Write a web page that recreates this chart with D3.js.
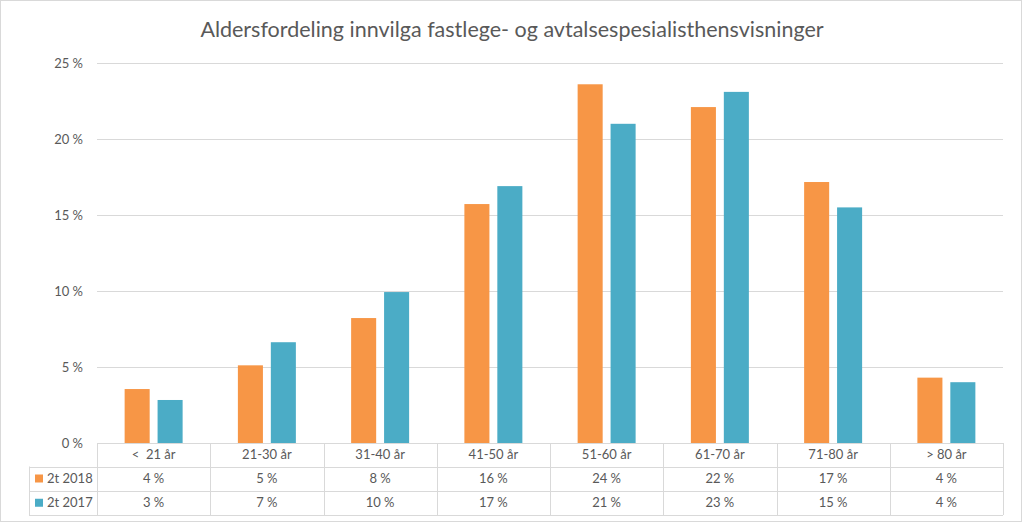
<!DOCTYPE html>
<html><head><meta charset="utf-8">
<script src="https://cdn.jsdelivr.net/npm/d3@7"></script>
<style>body{margin:0;background:#fff}svg{display:block}text{font-family:Lato,"Open Sans",sans-serif;fill:#595959}</style>
</head><body><svg id="c" width="1023" height="524"></svg>
<script>
const categories = ["<\u00a0\u00a021 år","21-30 år","31-40 år","41-50 år","51-60 år","61-70 år","71-80 år","> 80 år"];
const seriesNames = ["2t 2018","2t 2017"];
const values2018 = [3.55,5.11,8.22,15.72,23.6,22.1,17.17,4.3];
const values2017 = [2.83,6.63,9.93,16.9,21.0,23.1,15.5,4.0];
const labels2018 = ["4 %","5 %","8 %","16 %","24 %","22 %","17 %","4 %"];
const labels2017 = ["3 %","7 %","10 %","17 %","21 %","23 %","15 %","4 %"];
const yTicks = [0,5,10,15,20,25];
const colors = ["#F79646","#4BACC6"];

const svg = d3.select("#c");
const L=97, R=1003, T=63, B=443;
svg.append("rect").attr("x",0.5).attr("y",0.5).attr("width",1021).attr("height",521).attr("fill","#fff").attr("stroke","#D9D9D9");

svg.append("text").attr("x",512).attr("y",37).attr("text-anchor","middle").style("font-size","21.5px").text("Aldersfordeling innvilga fastlege- og avtalsespesialisthensvisninger");

const x0 = d3.scaleBand().domain(categories).range([L,R]).paddingInner(0.488).paddingOuter(0.244);
const x1 = d3.scaleBand().domain(seriesNames).range([0,x0.bandwidth()]).paddingInner(0.24);
const y = d3.scaleLinear().domain([0,25]).range([B,T]);

// gridlines
svg.append("g").selectAll("line").data(yTicks.filter(d=>d>0)).join("line")
  .attr("x1",L).attr("x2",R).attr("y1",d=>Math.round(y(d))+0.5).attr("y2",d=>Math.round(y(d))+0.5)
  .attr("stroke","#D9D9D9").attr("stroke-width",1);

// y labels
const yAxis = d3.axisLeft(y).tickValues(yTicks).tickSize(0).tickPadding(14).tickFormat(d=>d+" %");
const ya = svg.append("g").attr("transform",`translate(${L},0)`).call(yAxis);
ya.select(".domain").remove();
ya.selectAll("text").style("font-size","13px").attr("fill","#595959").style("font-family","Lato,'Open Sans',sans-serif");

// bars
const series = [values2018, values2017];
const g = svg.append("g");
series.forEach((vals,si)=>{
  g.selectAll(null).data(vals).join("rect")
   .attr("x",(d,i)=>x0(categories[i])+x1(seriesNames[si]))
   .attr("width",x1.bandwidth())
   .attr("y",d=>y(d)).attr("height",d=>B-y(d))
   .attr("fill",colors[si]);
});

// data table
const step = x0.step();
const rowY = [B, 466.5, 490.5, 515];
const tl = svg.append("g").attr("stroke","#D9D9D9").attr("stroke-width",1).attr("fill","none");
tl.append("line").attr("x1",L).attr("x2",R).attr("y1",B+0.5).attr("y2",B+0.5);
[1,2,3].forEach(k=>{
  tl.append("line").attr("x1",29).attr("x2",R).attr("y1",Math.round(rowY[k])+0.5).attr("y2",Math.round(rowY[k])+0.5);
});
d3.range(categories.length+1).forEach(i=>{
  const xx = Math.round(L+i*step)+0.5;
  tl.append("line").attr("x1",xx).attr("x2",xx).attr("y1",B).attr("y2",rowY[3]);
});
tl.append("line").attr("x1",29.5).attr("x2",29.5).attr("y1",rowY[1]).attr("y2",rowY[3]);

const tt = svg.append("g").style("font-size","13px");
categories.forEach((c,i)=>{
  const cx = L+(i+0.5)*step;
  tt.append("text").attr("x",cx).attr("y",(rowY[0]+rowY[1])/2+4.5).attr("text-anchor","middle").text(c);
  tt.append("text").attr("x",cx).attr("y",(rowY[1]+rowY[2])/2+4.5).attr("text-anchor","middle").text(labels2018[i]);
  tt.append("text").attr("x",cx).attr("y",(rowY[2]+rowY[3])/2+4.5).attr("text-anchor","middle").text(labels2017[i]);
});
seriesNames.forEach((s,si)=>{
  const cy = (rowY[si+1]+rowY[si+2])/2;
  svg.append("rect").attr("x",35).attr("y",cy-4).attr("width",8).attr("height",8).attr("fill",colors[si]);
  svg.append("text").attr("x",47).attr("y",cy+4.5).style("font-size","13px").text(s);
});
</script></body></html>
